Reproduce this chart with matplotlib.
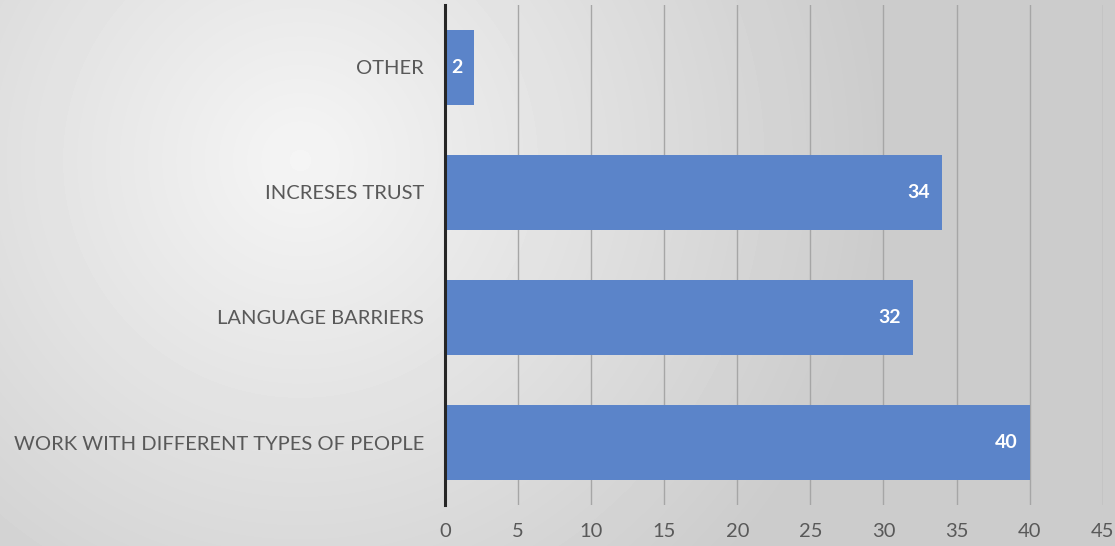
import numpy as np
import matplotlib.pyplot as plt

categories = ['WORK WITH DIFFERENT TYPES OF PEOPLE', 'LANGUAGE BARRIERS', 'INCRESES TRUST', 'OTHER']
values = [40, 32, 34, 2]
xticks = [0, 5, 10, 15, 20, 25, 30, 35, 40, 45]

plt.rcParams['font.family'] = ['Lato', 'DejaVu Sans']

fig = plt.figure(figsize=(11.15, 5.46), dpi=100)

# radial grey background
bg = fig.add_axes([0, 0, 1, 1], zorder=0)
yy, xx = np.mgrid[0:546, 0:1115]
r = np.sqrt((xx - 300) ** 2 + (yy - 160) ** 2) / 580.0
r = np.clip(r, 0, 1)
shade = 0.96 - 0.16 * r
bg.imshow(shade, cmap='gray', vmin=0, vmax=1, aspect='auto', extent=[0, 1, 0, 1])
bg.axis('off')

ax = fig.add_axes([0.399, 0.075, 0.590, 0.916], zorder=1)
ax.patch.set_alpha(0)
y = np.arange(len(categories))
bars = ax.barh(y, values, height=0.6, color='#5b84c9', zorder=2)
for b, v in zip(bars, values):
    ax.text(b.get_width() - 0.8, b.get_y() + b.get_height() / 2, str(v),
            ha='right', va='center', color='white', fontweight='bold', fontsize=14, zorder=3)

ax.set_xlim(0, 45)
ax.set_ylim(-0.5, 3.5)
ax.set_xticks(xticks)
ax.set_yticks(y)
ax.set_yticklabels(categories, fontsize=14.5, color='#595959')
ax.tick_params(axis='x', length=0, labelsize=14.5, labelcolor='#595959', pad=13)
ax.tick_params(axis='y', length=0, pad=15)
ax.xaxis.grid(True, color='#a6a6a6', linewidth=1.0, zorder=1)
ax.set_axisbelow(True)
for s in ['top', 'right', 'bottom']:
    ax.spines[s].set_visible(False)
ax.spines['left'].set_color('#262626')
ax.spines['left'].set_linewidth(2.2)

fig.savefig('out.png', dpi=100)
